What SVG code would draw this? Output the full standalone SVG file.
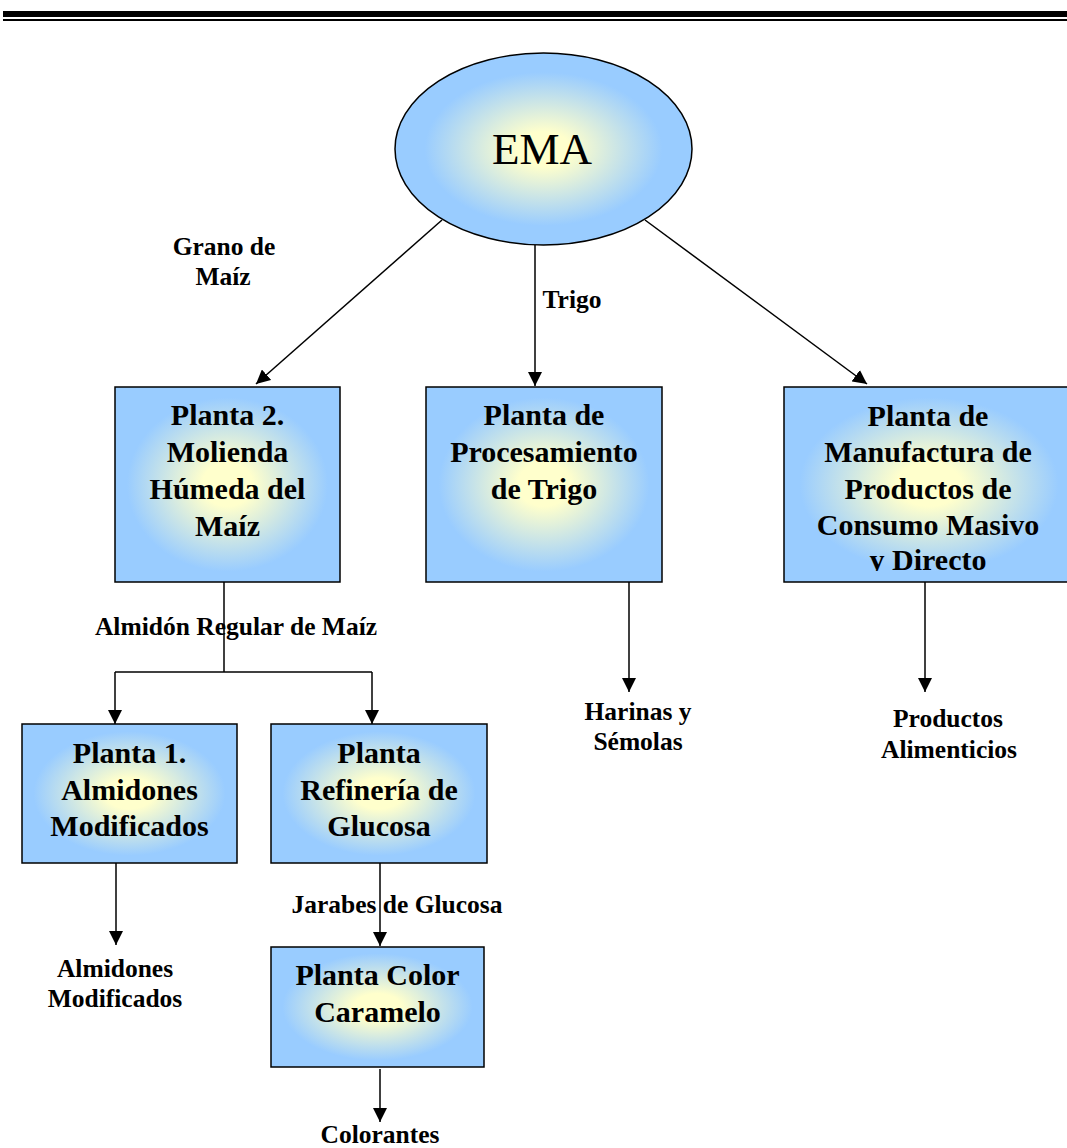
<svg xmlns="http://www.w3.org/2000/svg" width="1067" height="1148" viewBox="0 0 1067 1148">
  <style>
    .node { stroke: #000; stroke-width: 1.5; }
    .box { fill: url(#fillCenter); }
    .oval { fill: url(#fillOval); }
    .ttl { font-family: "Liberation Serif", "Times New Roman", serif; font-weight: bold; font-size: 30px; text-anchor: middle; fill: #000; }
    .lbl { font-family: "Liberation Serif", "Times New Roman", serif; font-weight: bold; font-size: 25.5px; text-anchor: middle; fill: #000; }
    .big { font-family: "Liberation Serif", "Times New Roman", serif; font-size: 45px; text-anchor: middle; fill: #000; }
    .conn { fill: none; stroke: #000; stroke-width: 1.5; }
  </style>
  <defs>
    <radialGradient id="fillCenter" cx="0.5" cy="0.5" r="0.62">
      <stop offset="0" stop-color="#FFFFCC"/>
      <stop offset="0.18" stop-color="#FFFFCC"/>
      <stop offset="0.72" stop-color="#99CCFF"/>
      <stop offset="1" stop-color="#99CCFF"/>
    </radialGradient>
    <radialGradient id="fillOval" cx="0.5" cy="0.5" r="0.5">
      <stop offset="0" stop-color="#FFFFCC"/>
      <stop offset="0.18" stop-color="#FFFFCC"/>
      <stop offset="0.8" stop-color="#99CCFF"/>
      <stop offset="1" stop-color="#99CCFF"/>
    </radialGradient>
    <marker id="arrow" markerUnits="userSpaceOnUse" markerWidth="14" markerHeight="14" viewBox="0 0 14 14" refX="14" refY="7" orient="auto">
      <path d="M0,0 L14,7 L0,14 Z" fill="#000"/>
    </marker>
    <clipPath id="clipRight">
      <rect x="784" y="387" width="290" height="184"/>
    </clipPath>
  </defs>

  <!-- header rule -->
  <rect x="3" y="11" width="1064" height="6" fill="#000"/>
  <rect x="3" y="19" width="1064" height="2" fill="#000"/>

  <g id="ema">
    <ellipse class="node oval" cx="543.5" cy="149" rx="148.5" ry="96"/>
    <text class="big" x="542" y="164">EMA</text>
  </g>

  <g id="planta2">
    <rect class="node box" x="115" y="387" width="225" height="195"/>
    <text class="ttl" x="227.5" y="425">Planta 2.</text>
    <text class="ttl" x="227.5" y="462">Molienda</text>
    <text class="ttl" x="227.5" y="499">Húmeda del</text>
    <text class="ttl" x="227.5" y="536">Maíz</text>
  </g>

  <g id="trigo">
    <rect class="node box" x="426" y="387" width="236" height="195"/>
    <text class="ttl" x="544" y="425">Planta de</text>
    <text class="ttl" x="544" y="462">Procesamiento</text>
    <text class="ttl" x="544" y="499">de Trigo</text>
  </g>

  <g id="manufactura">
    <rect class="node box" x="784" y="387" width="290" height="195"/>
    <g clip-path="url(#clipRight)">
      <text class="ttl" x="928" y="426">Planta de</text>
      <text class="ttl" x="928" y="462">Manufactura de</text>
      <text class="ttl" x="928" y="499">Productos de</text>
      <text class="ttl" x="928" y="535">Consumo Masivo</text>
      <text class="ttl" x="928" y="570">y Directo</text>
    </g>
  </g>

  <g id="planta1">
    <rect class="node box" x="22" y="724" width="215" height="139"/>
    <text class="ttl" x="129.5" y="763">Planta 1.</text>
    <text class="ttl" x="129.5" y="800">Almidones</text>
    <text class="ttl" x="129.5" y="836">Modificados</text>
  </g>

  <g id="glucosa">
    <rect class="node box" x="271" y="724" width="216" height="139"/>
    <text class="ttl" x="379" y="763">Planta</text>
    <text class="ttl" x="379" y="800">Refinería de</text>
    <text class="ttl" x="379" y="836">Glucosa</text>
  </g>

  <g id="caramelo">
    <rect class="node box" x="271" y="947" width="213" height="120"/>
    <text class="ttl" x="377.5" y="985">Planta Color</text>
    <text class="ttl" x="377.5" y="1022">Caramelo</text>
  </g>

  <g id="connectors">
    <line class="conn" x1="442" y1="220" x2="256" y2="384" marker-end="url(#arrow)"/>
    <line class="conn" x1="535" y1="245" x2="535" y2="386" marker-end="url(#arrow)"/>
    <line class="conn" x1="645" y1="220" x2="867" y2="384" marker-end="url(#arrow)"/>
    <polyline class="conn" points="224,582 224,672"/>
    <polyline class="conn" points="115,672 372,672"/>
    <line class="conn" x1="115" y1="672" x2="115" y2="724" marker-end="url(#arrow)"/>
    <line class="conn" x1="372" y1="672" x2="372" y2="724" marker-end="url(#arrow)"/>
    <line class="conn" x1="629" y1="582" x2="629" y2="692" marker-end="url(#arrow)"/>
    <line class="conn" x1="925" y1="582" x2="925" y2="692" marker-end="url(#arrow)"/>
    <line class="conn" x1="116" y1="863" x2="116" y2="945" marker-end="url(#arrow)"/>
    <line class="conn" x1="380" y1="863" x2="380" y2="946" marker-end="url(#arrow)"/>
    <line class="conn" x1="380" y1="1069" x2="380" y2="1122" marker-end="url(#arrow)"/>
  </g>

  <g id="labels">
    <text class="lbl" x="224" y="255">Grano de</text>
    <text class="lbl" x="223" y="285">Maíz</text>
    <text class="lbl" x="572" y="308">Trigo</text>
    <text class="lbl" x="236" y="635">Almidón Regular de Maíz</text>
    <text class="lbl" x="638" y="720">Harinas y</text>
    <text class="lbl" x="638" y="750">Sémolas</text>
    <text class="lbl" x="948" y="727">Productos</text>
    <text class="lbl" x="949" y="758">Alimenticios</text>
    <text class="lbl" x="115" y="977">Almidones</text>
    <text class="lbl" x="115" y="1007">Modificados</text>
    <text class="lbl" x="397" y="913">Jarabes de Glucosa</text>
    <text class="lbl" x="380" y="1143">Colorantes</text>
  </g>
</svg>
